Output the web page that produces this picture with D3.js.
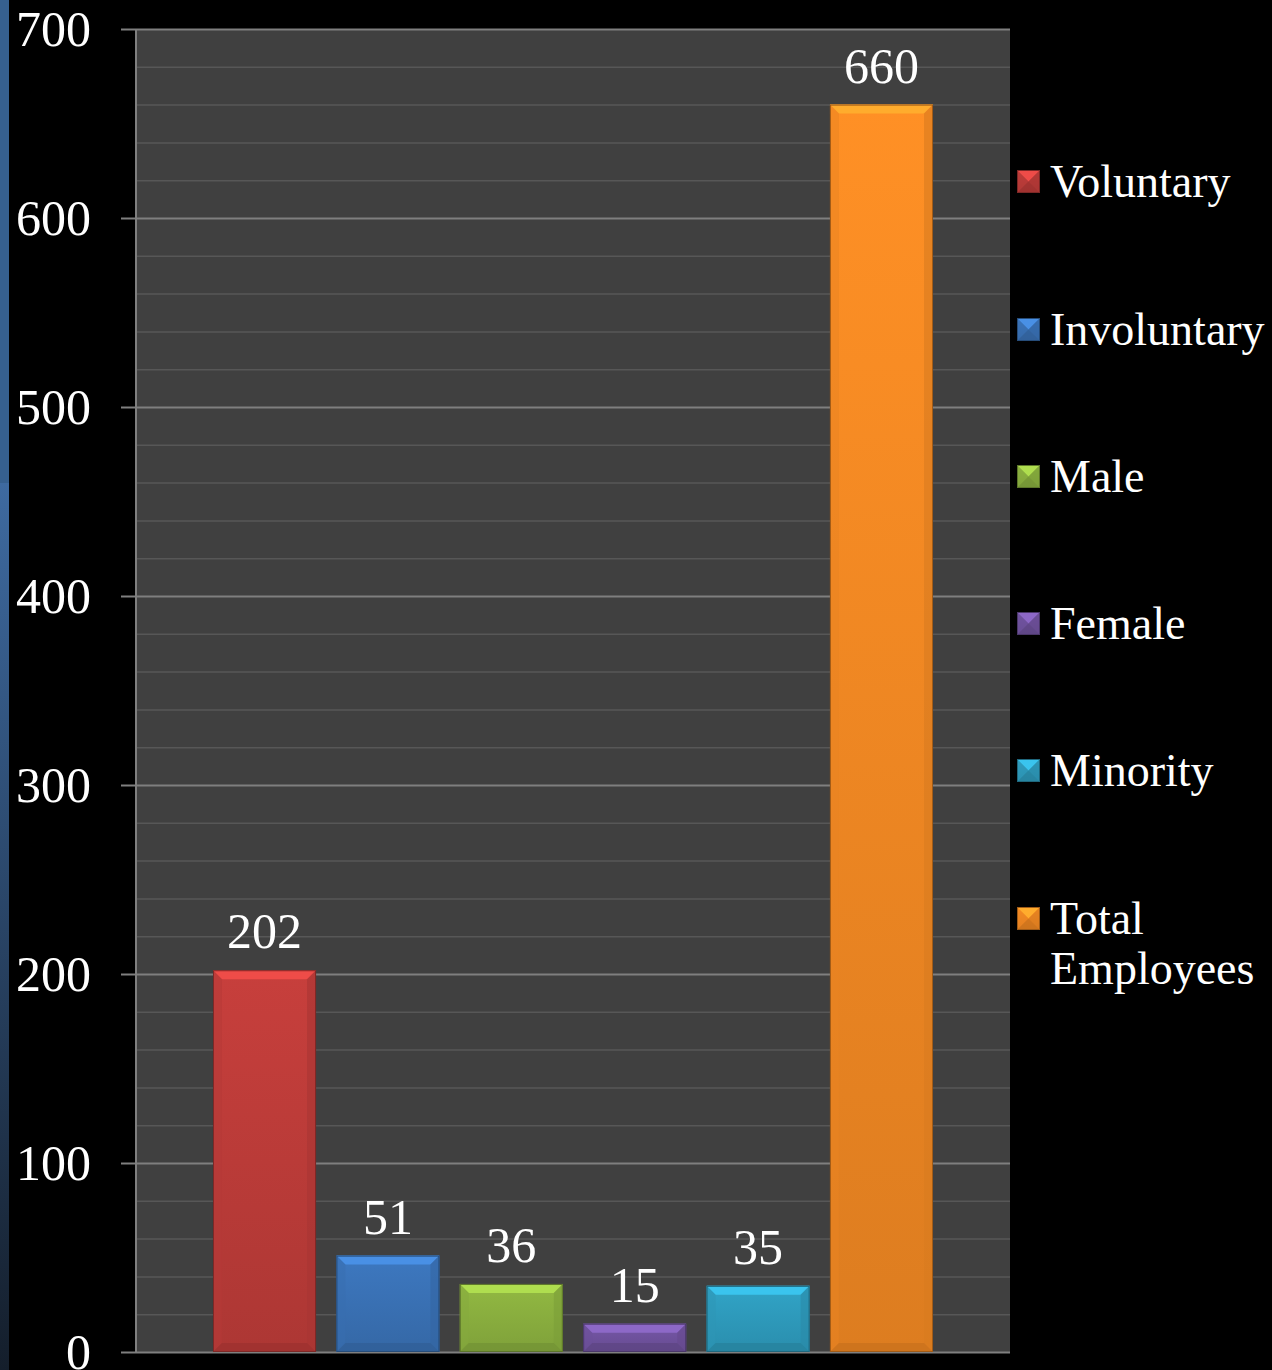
<!DOCTYPE html>
<html>
<head>
<meta charset="utf-8">
<script src="https://cdn.jsdelivr.net/npm/d3@7"></script>
<style>
  html, body { margin: 0; padding: 0; background: #000; }
  svg { display: block; }
  text { font-family: "Liberation Serif", "DejaVu Serif", serif; fill: #fff; }
</style>
</head>
<body>
<div id="chart"></div>
<script>
(function () {
    'use strict';

    // data
    var seriesNames = ['Voluntary', 'Involuntary', 'Male', 'Female', 'Minority', 'Total Employees'];
    var seriesValues = [202, 51, 36, 15, 35, 660];
    var seriesColors = ['#c03d3a', '#3b74b9', '#8db340', '#7254a1', '#2f9ec0', '#f68b24'];
    var yTicks = [0, 100, 200, 300, 400, 500, 600, 700];

    var W = 1272, H = 1370;
    var frame = { left: 136, right: 1010, top: 29, bottom: 1352 };

    var svg = d3.select('#chart').append('svg')
        .attr('width', W).attr('height', H);

    var defs = svg.append('defs');

    // left blue strip
    var stripGrad = defs.append('linearGradient').attr('id', 'strip')
        .attr('x1', 0).attr('y1', 0).attr('x2', 0).attr('y2', 1);
    stripGrad.append('stop').attr('offset', '0%').attr('stop-color', '#3e6aa0');
    stripGrad.append('stop').attr('offset', '100%').attr('stop-color', '#141e2b');
    svg.append('rect').attr('x', 0).attr('y', 0).attr('width', 9).attr('height', 483)
        .attr('fill', '#36608f');
    svg.append('rect').attr('x', 0).attr('y', 483).attr('width', 9).attr('height', H - 483)
        .attr('fill', 'url(#strip)');

    var y = d3.scaleLinear().domain([0, 700]).range([frame.bottom, frame.top]);
    var x = d3.scaleBand().domain(seriesNames)
        .range([frame.left, frame.right])
        .paddingInner(0.165).paddingOuter(0.624);

    // plot background
    svg.append('rect')
        .attr('x', frame.left).attr('y', frame.top)
        .attr('width', frame.right - frame.left).attr('height', frame.bottom - frame.top)
        .attr('fill', '#404040');

    // minor grid
    var minor = d3.range(0, 701, 20).filter(function (v) { return v % 100 !== 0; });
    svg.append('g').selectAll('line').data(minor).enter().append('line')
        .attr('x1', frame.left).attr('x2', frame.right)
        .attr('y1', function (d) { return y(d) + 0.5; })
        .attr('y2', function (d) { return y(d) + 0.5; })
        .attr('stroke', '#575757').attr('stroke-width', 1.5);

    // major grid + axis
    var axis = svg.append('g')
        .attr('transform', 'translate(' + frame.left + ',0)')
        .call(d3.axisLeft(y).tickValues(yTicks).tickSize(15).tickPadding(30));
    axis.select('.domain').attr('stroke', '#7f7f7f').attr('stroke-width', 2)
        .attr('d', 'M0,' + frame.top + 'V' + frame.bottom);
    axis.selectAll('.tick line').attr('stroke', '#7f7f7f').attr('stroke-width', 2);
    axis.selectAll('.tick').append('line')
        .attr('x1', 0).attr('x2', frame.right - frame.left)
        .attr('stroke', '#7f7f7f').attr('stroke-width', 2);
    axis.selectAll('.tick text')
        .attr('fill', '#fff')
        .style('font-family', '"Liberation Serif", serif')
        .style('font-size', '50px')
        .attr('dy', '0.33em');

    // bevel helper
    function bevelBox(g, x0, y0, w, h, color, b) {
        var c = d3.color(color);
        var gid = 'g' + Math.random().toString(36).slice(2, 8);
        var grad = defs.append('linearGradient').attr('id', gid)
            .attr('x1', 0).attr('y1', 0).attr('x2', 0).attr('y2', 1);
        grad.append('stop').attr('offset', '0%').attr('stop-color', c.brighter(0.1));
        grad.append('stop').attr('offset', '100%').attr('stop-color', c.darker(0.3));

        b = Math.min(b, h / 2, w / 2);
        g.append('rect').attr('x', x0).attr('y', y0).attr('width', w).attr('height', h)
            .attr('fill', 'url(#' + gid + ')');
        // top bevel
        g.append('path')
            .attr('d', 'M' + x0 + ',' + y0 + 'H' + (x0 + w) + 'L' + (x0 + w - b) + ',' + (y0 + b) +
                'H' + (x0 + b) + 'Z')
            .attr('fill', c.brighter(0.6));
        // left bevel
        g.append('path')
            .attr('d', 'M' + x0 + ',' + y0 + 'L' + (x0 + b) + ',' + (y0 + b) + 'V' + (y0 + h - b) +
                'L' + x0 + ',' + (y0 + h) + 'Z')
            .attr('fill', c.darker(0.15)).attr('opacity', 0.5);
        // right bevel
        g.append('path')
            .attr('d', 'M' + (x0 + w) + ',' + y0 + 'L' + (x0 + w - b) + ',' + (y0 + b) + 'V' + (y0 + h - b) +
                'L' + (x0 + w) + ',' + (y0 + h) + 'Z')
            .attr('fill', c.darker(0.35)).attr('opacity', 0.6);
        // bottom bevel
        g.append('path')
            .attr('d', 'M' + x0 + ',' + (y0 + h) + 'H' + (x0 + w) + 'L' + (x0 + w - b) + ',' + (y0 + h - b) +
                'H' + (x0 + b) + 'Z')
            .attr('fill', c.darker(0.6)).attr('opacity', 0.7);
        g.append('rect').attr('x', x0 + 0.5).attr('y', y0 + 0.5)
            .attr('width', w - 1).attr('height', h - 1)
            .attr('fill', 'none').attr('stroke', c.darker(1.2)).attr('stroke-width', 1);
    }

    // bars
    var bars = svg.append('g');
    seriesNames.forEach(function (name, i) {
        var v = seriesValues[i];
        var g = bars.append('g');
        bevelBox(g, x(name), y(v), x.bandwidth(), y(0) - y(v), seriesColors[i], 9);
        g.append('text')
            .attr('x', x(name) + x.bandwidth() / 2)
            .attr('y', y(v) - 22)
            .attr('text-anchor', 'middle')
            .style('font-size', '50px')
            .text(v);
    });

    // legend
    var legendY = [181, 329, 476, 623, 770, 918];
    var legend = svg.append('g');
    seriesNames.forEach(function (name, i) {
        var g = legend.append('g').attr('transform', 'translate(1017,' + legendY[i] + ')');
        bevelBox(g, 0, -11, 23, 23, seriesColors[i], 11);
        var words = name === 'Total Employees' ? ['Total', 'Employees'] : [name];
        var t = g.append('text').attr('x', 33).attr('y', 0)
            .style('font-size', '46px');
        words.forEach(function (w, k) {
            t.append('tspan').attr('x', 33).attr('dy', k === 0 ? '0.34em' : '50px').text(w);
        });
    });
}());
</script>
</body>
</html>
